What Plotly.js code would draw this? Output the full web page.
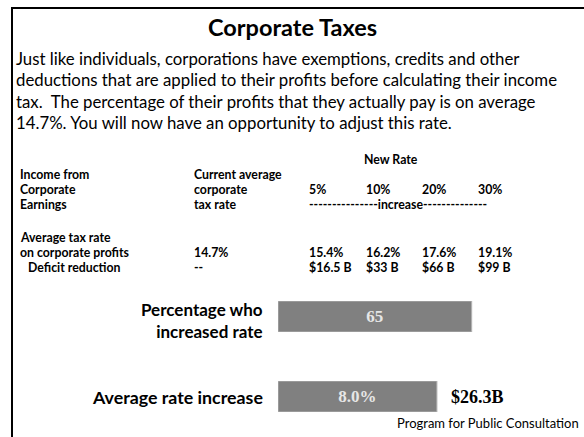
<!DOCTYPE html>
<html>
<head>
<meta charset="utf-8">
<script src="https://cdn.plot.ly/plotly-3.0.1.min.js"></script>
<style>html,body{margin:0;padding:0;background:#fff;}#chart{width:584px;height:437px;}</style>
</head>
<body>
<div id="chart"></div>
<script>
// ---- data ----
const titleText = "Corporate Taxes";
const introLines = [
  "Just like individuals, corporations have exemptions, credits and other",
  "deductions that are applied to their profits before calculating their income",
  "tax.  The percentage of their profits that they actually pay is on average",
  "14.7%. You will now have an opportunity to adjust this rate."
];
const rateIncreases = ["5%", "10%", "20%", "30%"];
const currentRate = 14.7;
const newAvgRates = [15.4, 16.2, 17.6, 19.1];
const deficitReduction = [16.5, 33, 66, 99];
const barLabels = ["Percentage who<br>increased rate", "Average rate increase"];
const pctIncreased = [65];
const avgRateIncrease = [8.0];
const avgDeficitReduction = 26.3;
const sourceText = "Program for Public Consultation";

// ---- layout helpers (pixel -> paper, margins are zero) ----
const W = 584, H = 437;
const px = x => x / W;
const py = y => 1 - y / H;

const humanist = "Lato, 'Open Sans', sans-serif";
const serif = "'Liberation Serif', 'DejaVu Serif', serif";

const ann = [];
function txt(text, x, y, size, opts) {
  opts = opts || {};
  ann.push({
    text: text, xref: 'paper', yref: 'paper', x: px(x), y: py(y),
    xanchor: opts.xanchor || 'left', yanchor: 'middle', showarrow: false,
    align: opts.align || 'left',
    font: {family: opts.family || humanist, size: size, color: opts.color || '#000',
           weight: opts.weight || 'normal'}
  });
}

// title + intro
txt(titleText, 292, 27, 23.5, {xanchor: 'center', weight: 'bold'});
const lineY = [58, 80, 101, 122];
introLines.forEach((l, i) => txt(l, 14, lineY[i], 16.8));

// table
const tb = {size: 12.3, weight: 'bold'};
const colX = [307, 364, 420, 476];
txt("New Rate", 391, 159, tb.size, {xanchor: 'center', weight: 'bold'});
txt("Income from", 18, 174, tb.size, tb);
txt("Corporate", 18, 189, tb.size, tb);
txt("Earnings", 18, 204, tb.size, tb);
txt("Current average", 192, 174, tb.size, tb);
txt("corporate", 192, 189, tb.size, tb);
txt("tax rate", 192, 204, tb.size, tb);
rateIncreases.forEach((r, i) => txt(r, colX[i], 190, tb.size, tb));
txt("---------------increase--------------", 307, 205, tb.size, tb);
txt("Average tax rate", 18, 237, tb.size, tb);
txt("on corporate profits", 18, 252, tb.size, tb);
txt("Deficit reduction", 26, 267, tb.size, tb);
txt(currentRate.toFixed(1) + "%", 192, 252, tb.size, tb);
txt("--", 192, 267, tb.size, tb);
newAvgRates.forEach((v, i) => txt(v.toFixed(1) + "%", colX[i], 252, tb.size, tb));
deficitReduction.forEach((v, i) => txt("$" + v + " B", colX[i], 267, tb.size, tb));

// bar row labels
txt(barLabels[0], 265, 320, 17, {xanchor: 'right', align: 'right', weight: 'bold'});
txt(barLabels[1], 265, 397, 17.8, {xanchor: 'right', align: 'right', weight: 'bold'});
txt("$" + avgDeficitReduction + "B", 449, 397, 18, {family: serif, weight: 'bold'});
txt(sourceText, 581, 423, 13, {xanchor: 'right'});

// bars
const barStyle = {color: '#808080', line: {color: '#b4b4b4', width: 1}};
const valFont = {family: serif, size: 17, color: '#e6e6e6', weight: 'bold'};
const traces = [
  {type: 'bar', orientation: 'h', x: pctIncreased, y: [0], width: [1],
   xaxis: 'x', yaxis: 'y', marker: barStyle, text: pctIncreased.map(v => String(v)),
   textposition: 'inside', insidetextanchor: 'middle',
   textfont: valFont, hoverinfo: 'none'},
  {type: 'bar', orientation: 'h', x: avgRateIncrease, y: [0], width: [1],
   xaxis: 'x2', yaxis: 'y2', marker: barStyle, text: avgRateIncrease.map(v => v.toFixed(1) + "%"),
   textposition: 'inside', insidetextanchor: 'middle',
   textfont: valFont, hoverinfo: 'none'}
];

const hidden = {showgrid: false, zeroline: false, showticklabels: false, showline: false, ticks: ''};
const layout = {
  width: W, height: H,
  margin: {l: 0, r: 0, t: 0, b: 0},
  paper_bgcolor: '#fff', plot_bgcolor: 'rgba(0,0,0,0)',
  showlegend: false,
  xaxis: Object.assign({domain: [px(278), px(576)], range: [0, 100], fixedrange: true}, hidden),
  yaxis: Object.assign({domain: [py(332), py(301)], range: [-0.5, 0.5], fixedrange: true}, hidden),
  xaxis2: Object.assign({domain: [px(278), px(576)], range: [0, 15], anchor: 'y2', fixedrange: true}, hidden),
  yaxis2: Object.assign({domain: [py(412), py(381)], range: [-0.5, 0.5], anchor: 'x2', fixedrange: true}, hidden),
  annotations: ann,
  shapes: [
    {type: 'line', xref: 'paper', yref: 'paper', x0: px(11), x1: px(584), y0: py(8), y1: py(8),
     line: {color: '#000', width: 2}},
    {type: 'line', xref: 'paper', yref: 'paper', x0: px(12), x1: px(12), y0: py(7), y1: py(437),
     line: {color: '#000', width: 2}}
  ]
};

Plotly.newPlot('chart', traces, layout, {displayModeBar: false, staticPlot: true});
</script>
</body>
</html>
